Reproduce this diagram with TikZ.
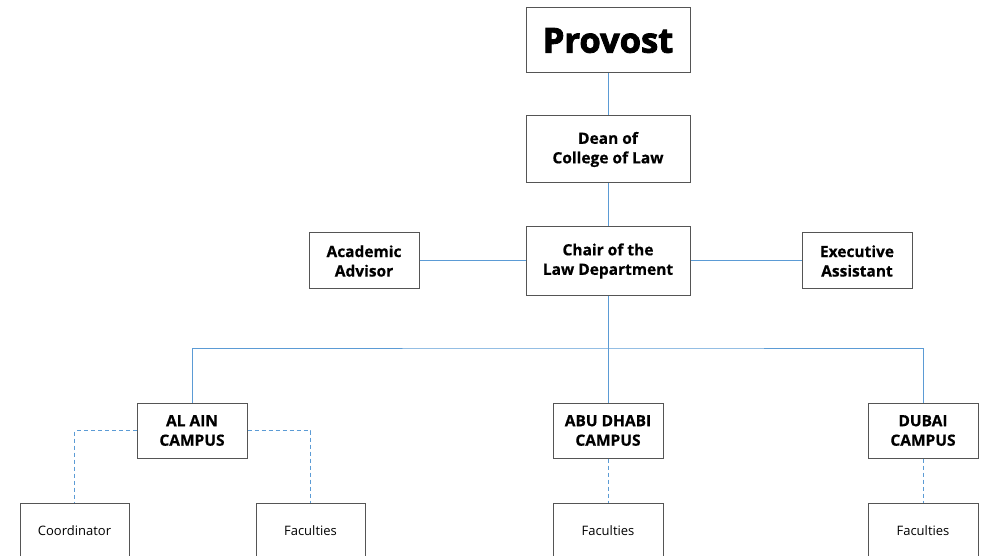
\documentclass[tikz,border=0pt]{standalone}
\usepackage{fontspec}
\setmainfont{Open Sans}[BoldFeatures={FakeBold=0.6}]
\newfontfamily\heavyfont{Open Sans}[FakeBold=2.5]
\begin{document}
\begin{tikzpicture}[x=1pt,y=-1pt,
  box/.style={draw=boxgray,line width=1pt,rectangle,inner sep=0pt,align=center,font=\bfseries\fontsize{15.5}{19.5}\selectfont},
  sbox/.style={draw=boxgray,line width=1pt,rectangle,inner sep=0pt,align=center,font=\fontsize{13}{16}\selectfont},
  conn/.style={draw=lineblue,line width=1pt},
  dconn/.style={draw=lineblue,line width=1pt,dash pattern=on 4pt off 3pt}]
\definecolor{boxgray}{HTML}{555555}
\definecolor{lineblue}{HTML}{5B9BD5}
\useasboundingbox (0,0) rectangle (983,556);
\clip (0,0) rectangle (983,556);
\node[box,minimum width=164pt,minimum height=65pt,font=\heavyfont\bfseries\fontsize{34.5}{38}\selectfont] (prov) at (608,40.5) {Provost};
\node[box,minimum width=164pt,minimum height=67pt] (dean) at (608,149.5) {Dean of\\College of Law};
\node[box,minimum width=164pt,minimum height=68pt] (chair) at (608,261) {Chair of the\\Law Department};
\node[box,minimum width=110pt,minimum height=56pt] (adv) at (364,261) {Academic\\Advisor};
\node[box,minimum width=110pt,minimum height=56pt] (exec) at (857,261) {Executive\\Assistant};
\node[box,minimum width=110pt,minimum height=55pt] (alain) at (192,430.5) {AL AIN\\CAMPUS};
\node[box,minimum width=110pt,minimum height=55pt] (abu) at (608,430.5) {ABU DHABI\\CAMPUS};
\node[box,minimum width=110pt,minimum height=55pt] (dubai) at (923,430.5) {DUBAI\\CAMPUS};
\node[sbox,minimum width=109pt,minimum height=56pt] (coord) at (74.5,531) {Coordinator};
\node[sbox,minimum width=109pt,minimum height=56pt] (fac1) at (310.5,531) {Faculties};
\node[sbox,minimum width=110pt,minimum height=56pt] (fac2) at (608,531) {Faculties};
\node[sbox,minimum width=110pt,minimum height=56pt] (fac3) at (923,531) {Faculties};
\coordinate (bus) at (608,348);
\path[conn] (prov) -- (dean);
\path[conn] (dean) -- (chair);
\path[conn] (adv) -- (chair);
\path[conn] (chair) -- (exec);
\path[conn] (chair) -- (bus);
\path[conn] (alain.north) |- (bus) -| (dubai.north);
\path[conn] (bus) -- (abu);
\path[dconn] (alain.west) -| (coord.north);
\path[dconn] (alain.east) -| (fac1.north);
\path[dconn] (abu) -- (fac2);
\path[dconn] (dubai) -- (fac3);
\end{tikzpicture}
\end{document}
